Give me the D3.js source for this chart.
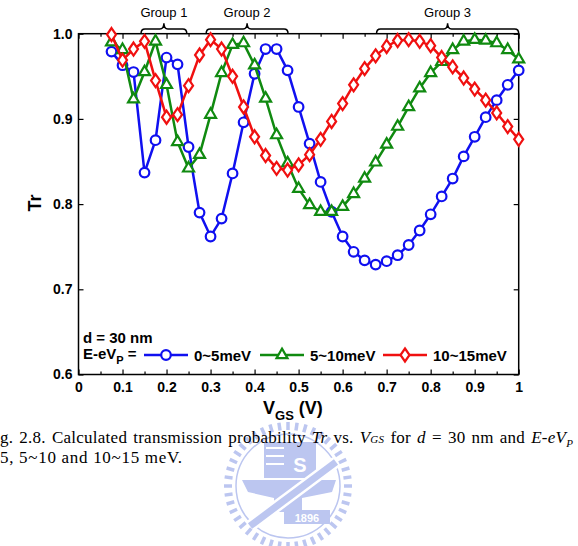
<!DOCTYPE html>
<html>
<head>
<meta charset="utf-8">
<script src="https://cdn.jsdelivr.net/npm/d3@7"></script>
<style>
	body { margin: 0; background: #fff; }
	svg { display: block; }
	.tick text { font-family: 'Liberation Sans', Arial, sans-serif; font-weight: bold; font-size: 14px; fill: #000; }
	.lbl { font-family: 'Liberation Sans', Arial, sans-serif; font-weight: bold; fill: #000; }
	.cap { font-family: 'Liberation Serif', 'Times New Roman', serif; font-size: 17px; fill: #000; }
</style>
</head>
<body>
<div id="chart"></div>
<script>
// gate voltage (V)
const vgs = [0.075, 0.1, 0.125, 0.15, 0.175, 0.2, 0.225, 0.25, 0.275, 0.3,
	0.325, 0.35, 0.375, 0.4, 0.425, 0.45, 0.475, 0.5, 0.525, 0.55,
	0.575, 0.6, 0.625, 0.65, 0.675, 0.7, 0.725, 0.75, 0.775, 0.8,
	0.825, 0.85, 0.875, 0.9, 0.925, 0.95, 0.975, 1.0];

// transmission, E-eVp = 0~5meV
const trLow = [0.979, 0.963, 0.955, 0.837, 0.875, 0.972, 0.964, 0.867, 0.790, 0.762,
	0.783, 0.836, 0.896, 0.953, 0.982, 0.982, 0.957, 0.914, 0.871, 0.826,
	0.791, 0.762, 0.744, 0.734, 0.729, 0.733, 0.740, 0.752, 0.769, 0.788,
	0.809, 0.830, 0.856, 0.879, 0.902, 0.922, 0.940, 0.957];

// 5~10meV
const trMid = [0.990, 0.981, 0.923, 0.955, 0.991, 0.940, 0.873, 0.842, 0.858, 0.905,
	0.954, 0.987, 0.989, 0.963, 0.924, 0.881, 0.848, 0.818, 0.799, 0.791,
	0.791, 0.797, 0.812, 0.830, 0.849, 0.870, 0.891, 0.914, 0.936, 0.954,
	0.967, 0.981, 0.991, 0.993, 0.992, 0.989, 0.981, 0.970];

// 10~15meV
const trHigh = [0.999, 0.969, 0.982, 0.991, 0.945, 0.902, 0.905, 0.939, 0.975, 0.993,
	0.982, 0.950, 0.914, 0.879, 0.857, 0.842, 0.840, 0.846, 0.858, 0.876,
	0.897, 0.918, 0.940, 0.959, 0.974, 0.985, 0.992, 0.993, 0.991, 0.986,
	0.972, 0.961, 0.948, 0.935, 0.922, 0.907, 0.891, 0.876];

const seriesNames = ['0~5meV', '5~10meV', '10~15meV'];

const xTicks = [0, 0.1, 0.2, 0.3, 0.4, 0.5, 0.6, 0.7, 0.8, 0.9, 1];
const xMinor = [0.05, 0.15, 0.25, 0.35, 0.45, 0.55, 0.65, 0.75, 0.85, 0.95];
const yTicks = [0.6, 0.7, 0.8, 0.9, 1.0];

// braces above the plot
const groupNames = ['Group 1', 'Group 2', 'Group 3'];
const groupFrom = [0.142, 0.29, 0.677];
const groupTo = [0.246, 0.476, 1.0];

const W = 578, H = 546;
const pLeft = 78.5, pRight = 518.7, pTop = 33.7, pBottom = 374.5;

const colors = ['#1010f0', '#108a10', '#f01010'];

var svg = d3.select('#chart')
		.append('svg')
		.attr('width', W)
		.attr('height', H);

var x = d3.scaleLinear().domain([0, 1]).range([pLeft, pRight]);
var y = d3.scaleLinear().domain([0.6, 1]).range([pBottom, pTop]);

// ---- watermark (faint logo behind caption)
const wm = svg.append('g').attr('transform', 'translate(288,486)');
const wmCol = '#bcc6f0';
d3.range(44).forEach((i) => {
	const a = i / 44 * 2 * Math.PI;
	wm.append('line')
		.attr('x1', Math.cos(a) * 56).attr('y1', Math.sin(a) * 56)
		.attr('x2', Math.cos(a) * 64).attr('y2', Math.sin(a) * 64)
		.attr('stroke', wmCol).attr('stroke-width', 3.5);
});
wm.append('circle').attr('r', 52).attr('fill', 'none').attr('stroke', wmCol).attr('stroke-width', 1.5);
wm.append('rect').attr('x', -24).attr('y', -44).attr('width', 52).attr('height', 36).attr('fill', wmCol);
[-38, -30, -22].forEach((yy) => {
	wm.append('line').attr('x1', -22).attr('x2', -4).attr('y1', yy).attr('y2', yy)
		.attr('stroke', '#fff').attr('stroke-width', 2);
});
wm.append('text').attr('x', 12).attr('y', -14).attr('text-anchor', 'middle')
	.style('font', 'bold 20px "Liberation Sans"').attr('fill', '#fff').text('S');
wm.append('path')
	.attr('d', 'M-46,-6 L48,-6 L44,6 L14,12 L14,26 L-14,26 L-14,12 L-40,6 Z')
	.attr('fill', wmCol);
wm.append('line').attr('x1', -38).attr('y1', 40).attr('x2', 48).attr('y2', -24)
	.attr('stroke', '#fff').attr('stroke-width', 12);
wm.append('line').attr('x1', -38).attr('y1', 40).attr('x2', 48).attr('y2', -24)
	.attr('stroke', wmCol).attr('stroke-width', 7);
wm.append('rect').attr('x', -4).attr('y', 24).attr('width', 46).attr('height', 14).attr('fill', wmCol);
wm.append('text').attr('x', 19).attr('y', 35.5).attr('text-anchor', 'middle')
	.style('font', 'bold 11px "Liberation Sans"').attr('fill', '#fff').text('1896');

// ---- caption (two lines in one text block)
const cap = svg.append('text').attr('class', 'cap').attr('y', 443)
	.style('letter-spacing', '0.25px')
	.style('word-spacing', '1.6px');
cap.append('tspan').attr('x', 0).text('g. 2.8. Calculated transmission probability ');
cap.append('tspan').style('font-style', 'italic').text('Tr');
cap.append('tspan').text(' vs. ');
cap.append('tspan').style('font-style', 'italic').text('V');
cap.append('tspan').style('font-style', 'italic').style('font-size', '11px').text('GS');
cap.append('tspan').text(' for ');
cap.append('tspan').style('font-style', 'italic').text('d');
cap.append('tspan').text(' = 30 nm and ');
cap.append('tspan').style('font-style', 'italic').text('E-eV');
cap.append('tspan').style('font-style', 'italic').style('font-size', '11px').attr('dy', 4).text('P');
cap.append('tspan').attr('x', 0).attr('y', 463)
	.style('letter-spacing', '0.7px')
	.style('word-spacing', '0px')
	.text('5, 5~10 and 10~15 meV.');

// ---- axes (ticks point inward)
const xFmt = d3.format('~g');
svg.append('g')
	.attr('transform', `translate(0,${pBottom})`)
	.call(d3.axisBottom(x).tickValues(xTicks).tickFormat(xFmt).tickSizeInner(-5).tickSizeOuter(0).tickPadding(8));
svg.append('g')
	.attr('transform', `translate(0,${pBottom})`)
	.call(d3.axisBottom(x).tickValues(xMinor).tickFormat('').tickSizeInner(-3).tickSizeOuter(0));
svg.append('g')
	.attr('transform', `translate(0,${pTop})`)
	.call(d3.axisTop(x).tickValues(xTicks).tickFormat('').tickSizeInner(-5).tickSizeOuter(0));
svg.append('g')
	.attr('transform', `translate(0,${pTop})`)
	.call(d3.axisTop(x).tickValues(xMinor).tickFormat('').tickSizeInner(-3).tickSizeOuter(0));
svg.append('g')
	.attr('transform', `translate(${pLeft},0)`)
	.call(d3.axisLeft(y).tickValues(yTicks).tickFormat(d3.format('.1f')).tickSizeInner(-5).tickSizeOuter(0).tickPadding(6));
svg.append('g')
	.attr('transform', `translate(${pRight},0)`)
	.call(d3.axisRight(y).tickValues(yTicks).tickFormat('').tickSizeInner(-5).tickSizeOuter(0));

svg.selectAll('.domain').remove();
svg.selectAll('.tick line').attr('stroke', '#000').attr('stroke-width', 1.2);

svg.append('rect')
	.attr('x', pLeft).attr('y', pTop)
	.attr('width', pRight - pLeft).attr('height', pBottom - pTop)
	.attr('fill', 'none').attr('stroke', '#000').attr('stroke-width', 1.5);

// axis titles
svg.append('text').attr('class', 'lbl')
	.attr('transform', 'translate(41,203) rotate(-90)')
	.attr('text-anchor', 'middle')
	.style('font-size', '18px')
	.text('Tr');

const xt = svg.append('text').attr('class', 'lbl')
	.attr('x', 263).attr('y', 414)
	.style('font-size', '18px');
xt.append('tspan').text('V');
xt.append('tspan').attr('dy', 6).style('font-size', '13px').text('GS');
xt.append('tspan').attr('dy', -6).text(' (V)');

// ---- markers
const diamond = 'M0,-6.5 L4.5,0 L0,6.5 L-4.5,0 Z';
const tri = d3.symbol(d3.symbolTriangle).size(52)();

const drawMarker = (g, k, cx, cy) => {
	if (k === 0) {
		g.append('circle').attr('cx', cx).attr('cy', cy).attr('r', 4.8)
			.attr('fill', '#fff').attr('stroke', colors[k]).attr('stroke-width', 2.2);
	} else {
		g.append('path').attr('d', k === 1 ? tri : diamond)
			.attr('transform', `translate(${cx},${cy})`)
			.attr('fill', '#fff').attr('stroke', colors[k]).attr('stroke-width', 2.2);
	}
};

const line = d3.line()
	.x((d, i) => x(vgs[i]))
	.y((d) => y(d));

[trLow, trMid, trHigh].forEach((vals, k) => {
	const g = svg.append('g');
	g.append('path')
		.attr('d', line(vals))
		.attr('fill', 'none')
		.attr('stroke', colors[k])
		.attr('stroke-width', 2.5);
	vals.forEach((v, i) => drawMarker(g, k, x(vgs[i]), y(v)));
});

// ---- legend
svg.append('text').attr('class', 'lbl').attr('x', 83).attr('y', 343)
	.style('font-size', '15px').text('d = 30 nm');
const el = svg.append('text').attr('class', 'lbl').attr('x', 83).attr('y', 359)
	.style('font-size', '15px');
el.append('tspan').text('E-eV');
el.append('tspan').attr('dy', 5).style('font-size', '11px').text('P');
el.append('tspan').attr('dy', -5).text(' =');

const legX = [144, 260, 383];
seriesNames.forEach((name, k) => {
	const g = svg.append('g');
	g.append('line')
		.attr('x1', legX[k]).attr('x2', legX[k] + 44)
		.attr('y1', 355).attr('y2', 355)
		.attr('stroke', colors[k]).attr('stroke-width', 2.5);
	drawMarker(g, k, legX[k] + 22, 355);
	g.append('text').attr('class', 'lbl')
		.attr('x', legX[k] + 50).attr('y', 360.5)
		.style('font-size', '15px')
		.text(name);
});

// ---- group braces
const brace = (x0, x1) => {
	const xc = (x0 + x1) / 2, yb = pTop, ym = 29, yt = 23.3, r = 4;
	return `M${x0},${yb} Q${x0},${ym} ${x0 + r},${ym} L${xc - r},${ym} Q${xc},${ym} ${xc},${yt}`
		+ ` Q${xc},${ym} ${xc + r},${ym} L${x1 - r},${ym} Q${x1},${ym} ${x1},${yb}`;
};
groupNames.forEach((name, k) => {
	const x0 = x(groupFrom[k]), x1 = x(groupTo[k]);
	svg.append('path')
		.attr('d', brace(x0, x1))
		.attr('fill', 'none')
		.attr('stroke', '#000')
		.attr('stroke-width', 1.5);
	svg.append('text')
		.attr('x', (x0 + x1) / 2).attr('y', 17)
		.attr('text-anchor', 'middle')
		.style('font-family', '"Liberation Sans", Arial, sans-serif')
		.style('font-size', '13px')
		.text(name);
});
</script>
</body>
</html>
